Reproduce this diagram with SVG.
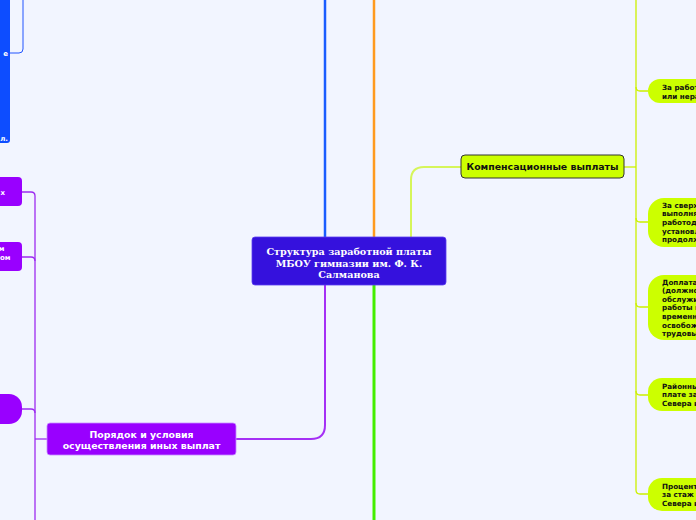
<svg xmlns="http://www.w3.org/2000/svg" width="696" height="520" viewBox="0 0 696 520">
<style>
.wt{fill:#fff;font-family:"DejaVu Sans",Verdana,sans-serif;font-weight:bold;}
.lt{fill:#111;font-family:"DejaVu Sans",Verdana,sans-serif;font-weight:bold;font-size:7.2px;}
.lime{fill:#ccff00;}
.pur{fill:#9900ff;}
.sub{fill:none;stroke:#ccf000;stroke-width:1.3;}
.psub{fill:none;stroke:#9d2cf0;stroke-width:1.3;}
</style>
<rect width="696" height="520" fill="#f2f5ff"/>
<g id="connectors">
<path d="M325,0 V237" fill="none" stroke="#1a5cff" stroke-width="2.5"/>
<path d="M374,0 V237" fill="none" stroke="#ff9a1f" stroke-width="2.5"/>
<path d="M411,237 V180 Q411,167 424,167 H461" fill="none" stroke="#d6f55a" stroke-width="2"/>
<path d="M325,285 V425 Q325,439 311,439 H236" fill="none" stroke="#a530f5" stroke-width="2"/>
<path d="M374,285 V520" fill="none" stroke="#44ee00" stroke-width="3"/>
<path class="sub" d="M624,167 H636"/>
<path class="sub" d="M636,0 V490 Q636,494 640,494 H648"/>
<path class="sub" d="M636,87 Q636,91 640,91 H648"/>
<path class="sub" d="M636,218 Q636,222 640,222 H648"/>
<path class="sub" d="M636,303 Q636,307 640,307 H648"/>
<path class="sub" d="M636,391 Q636,395 640,395 H648"/>
<path class="psub" d="M22,192 H31 Q35,192 35,196 V520"/>
<path class="psub" d="M22,257 H31 Q35,257 35,261"/>
<path class="psub" d="M22,409 H31 Q35,409 35,413"/>
<path class="psub" d="M35,439 H47"/>
<path d="M23,0 V49 Q23,53 19,53 H10" fill="none" stroke="#2255ff" stroke-width="1"/>
</g>
<g id="central">
<rect x="252" y="237" width="194" height="48" rx="3" fill="#3511dd" stroke="#5a3cf0" stroke-width="0.8"/>
<text x="349" y="255" text-anchor="middle" fill="#fff" font-family="'DejaVu Serif',Georgia,serif" font-weight="bold" font-size="9.6">Структура заработной платы</text>
<text x="349" y="266.5" text-anchor="middle" fill="#fff" font-family="'DejaVu Serif',Georgia,serif" font-weight="bold" font-size="9.6">МБОУ гимназии им. Ф. К.</text>
<text x="349" y="278" text-anchor="middle" fill="#fff" font-family="'DejaVu Serif',Georgia,serif" font-weight="bold" font-size="9.6">Салманова</text>
</g>
<g id="blue-node">
<rect x="-20" y="-10" width="30" height="153" rx="3" fill="#0d4dff"/>
<text class="wt" x="8" y="56" text-anchor="end" font-size="7">е</text>
<text class="wt" x="8" y="141" text-anchor="end" font-size="7">л.</text>
</g>
<g id="comp">
<rect x="461" y="155" width="163" height="23" rx="4" class="lime" stroke="#333" stroke-width="1"/>
<text x="542.5" y="170" text-anchor="middle" fill="#111" font-family="'DejaVu Sans',Verdana,sans-serif" font-weight="bold" font-size="9.4">Компенсационные выплаты</text>
</g>
<g id="order">
<rect x="47" y="423" width="189" height="32" rx="3" class="pur" stroke="#c68cff" stroke-width="0.8"/>
<text class="wt" x="141.5" y="437.5" text-anchor="middle" font-size="9.4">Порядок и условия</text>
<text class="wt" x="141.5" y="448.5" text-anchor="middle" font-size="9.4">осуществления иных выплат</text>
</g>
<g id="p-a">
<rect x="-20" y="177" width="42" height="29" rx="4" class="pur"/>
<text class="wt" x="5" y="195" text-anchor="end" font-size="7">х</text>
</g>
<g id="p-b">
<rect x="-20" y="242" width="42" height="29" rx="4" class="pur"/>
<text class="wt" x="4.5" y="251" text-anchor="end" font-size="7">м</text>
<text class="wt" x="10.5" y="260" text-anchor="end" font-size="7">ом</text>
</g>
<g id="p-c">
<rect x="-20" y="394" width="42" height="30" rx="13" class="pur"/>
</g>
<g id="c1">
<rect x="648" y="79" width="80" height="24" rx="12" class="lime"/>
<text class="lt" x="662" y="89.5">За работу в выходные</text>
<text class="lt" x="662" y="98.5">или нерабочие праздничные дни</text>
</g>
<g id="c2">
<rect x="648" y="198" width="80" height="49" rx="16" class="lime"/>
<text class="lt" x="662" y="207.5">За сверхурочную работу -</text>
<text class="lt" x="662" y="216.2">выполняемую по инициативе</text>
<text class="lt" x="662" y="224.9">работодателя за пределами</text>
<text class="lt" x="662" y="233.6">установленной для работника</text>
<text class="lt" x="662" y="242.3">продолжительности рабочего времени</text>
</g>
<g id="c3">
<rect x="648" y="275" width="80" height="65" rx="16" class="lime"/>
<text class="lt" x="662" y="284.5">Доплата за совмещение профессий</text>
<text class="lt" x="662" y="293.1">(должностей), расширение зон</text>
<text class="lt" x="662" y="301.7">обслуживания, увеличение объема</text>
<text class="lt" x="662" y="310.3">работы или исполнение обязанностей</text>
<text class="lt" x="662" y="318.9">временно отсутствующего работника без</text>
<text class="lt" x="662" y="327.5">освобождения от работы, определенной</text>
<text class="lt" x="662" y="336.1">трудовым договором</text>
</g>
<g id="c4">
<rect x="648" y="378" width="80" height="33" rx="14" class="lime"/>
<text class="lt" x="662" y="388.5">Районный коэффициент к заработной</text>
<text class="lt" x="662" y="397">плате за работу в районах Крайнего</text>
<text class="lt" x="662" y="405.5">Севера и приравненных местностях</text>
</g>
<g id="c5">
<rect x="648" y="478" width="80" height="33" rx="14" class="lime"/>
<text class="lt" x="662" y="488.5">Процентная надбавка к заработной плате</text>
<text class="lt" x="662" y="497">за стаж работы в районах Крайнего</text>
<text class="lt" x="662" y="505.5">Севера и приравненных к ним местностях</text>
</g>
</svg>
